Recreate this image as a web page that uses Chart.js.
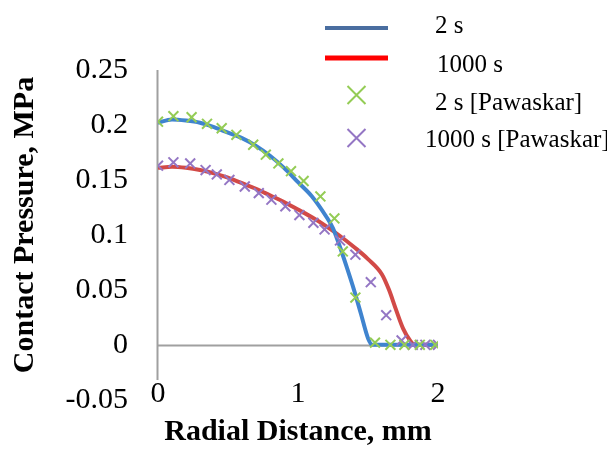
<!DOCTYPE html>
<html>
<head>
<meta charset="utf-8">
<script src="https://cdn.jsdelivr.net/npm/chart.js@4/dist/chart.umd.min.js"></script>
<style>
  html, body { margin: 0; padding: 0; background: #ffffff; }
  #wrap { width: 607px; height: 450px; }
</style>
</head>
<body>
<div id="wrap"><canvas id="chart" width="607" height="450"></canvas></div>
<script>
// Model results: contact pressure (MPa) against radial distance (mm)
const radius2s = [0, 0.1, 0.2, 0.3, 0.4, 0.5, 0.6, 0.7, 0.8, 0.9, 1.0, 1.1, 1.2, 1.25, 1.3, 1.35, 1.4, 1.45, 1.5, 1.53, 1.6, 1.7, 1.8, 1.9, 2.0];
const pressure2s = [0.202, 0.205, 0.204, 0.202, 0.198, 0.193, 0.188, 0.181, 0.172, 0.161, 0.148, 0.135, 0.117, 0.106, 0.089, 0.070, 0.050, 0.028, 0.006, 0, 0, 0, 0, 0, 0];

const radius1000s = [0, 0.1, 0.2, 0.3, 0.4, 0.5, 0.6, 0.7, 0.8, 0.9, 1.0, 1.1, 1.2, 1.3, 1.4, 1.5, 1.6, 1.65, 1.7, 1.75, 1.8, 1.83, 1.9, 2.0];
const pressure1000s = [0.161, 0.162, 0.161, 0.159, 0.156, 0.152, 0.147, 0.142, 0.136, 0.130, 0.123, 0.116, 0.108, 0.099, 0.089, 0.078, 0.064, 0.050, 0.032, 0.015, 0.004, 0, 0, 0];

// Pawaskar reference data
const radiusPaw2s = [0, 0.11, 0.24, 0.35, 0.455, 0.56, 0.68, 0.77, 0.86, 0.95, 1.04, 1.16, 1.26, 1.32, 1.41, 1.55, 1.66, 1.76, 1.87, 1.98];
const pressurePaw2s = [0.203, 0.208, 0.207, 0.201, 0.197, 0.191, 0.182, 0.173, 0.165, 0.158, 0.149, 0.135, 0.115, 0.085, 0.043, 0.002, 0, 0, 0, 0];

const radiusPaw1000s = [0, 0.11, 0.23, 0.34, 0.42, 0.51, 0.62, 0.72, 0.81, 0.91, 1.01, 1.11, 1.19, 1.3, 1.41, 1.52, 1.63, 1.74, 1.82, 1.91, 2.0];
const pressurePaw1000s = [0.163, 0.166, 0.165, 0.159, 0.155, 0.150, 0.144, 0.138, 0.132, 0.126, 0.118, 0.111, 0.105, 0.095, 0.082, 0.057, 0.027, 0.004, 0, 0, 0];

const seriesNames = ['2 s', '1000 s', '2 s [Pawaskar]', '1000 s [Pawaskar]'];
const xTicks = [0, 1, 2];
const yTicks = [-0.05, 0, 0.05, 0.1, 0.15, 0.2, 0.25];

const toPoints = (xs, ys) => xs.map((x, i) => ({ x: x, y: ys[i] }));

const serif = "'Liberation Serif', 'Times New Roman', serif";

// Vertical axis from the top tick down to the plot floor, horizontal axis along zero
const axisLines = {
  id: 'axisLines',
  beforeDatasetsDraw(chart, args, opts) {
    const { ctx, chartArea, scales: { x, y } } = chart;
    ctx.save();
    ctx.strokeStyle = opts.color;
    ctx.lineWidth = opts.width;
    ctx.beginPath();
    const x0 = Math.round(x.getPixelForValue(0)) - 0.5;
    ctx.moveTo(x0, y.getPixelForValue(0.25));
    ctx.lineTo(x0, chartArea.bottom);
    const y0 = Math.round(y.getPixelForValue(0)) + 0.5;
    ctx.moveTo(x0, y0);
    ctx.lineTo(x.getPixelForValue(2), y0);
    ctx.stroke();
    ctx.restore();
  }
};

// Legend in the upper right
const sideLegend = {
  id: 'sideLegend',
  afterDraw(chart, args, opts) {
    const { ctx } = chart;
    ctx.save();
    ctx.font = opts.font;
    ctx.fillStyle = '#000000';
    ctx.textBaseline = 'middle';
    ctx.textAlign = 'left';
    opts.items.forEach((it, i) => {
      const ds = chart.data.datasets[i];
      if (it.kind === 'line') {
        ctx.strokeStyle = it.color;
        ctx.lineWidth = it.width;
        ctx.lineCap = 'butt';
        ctx.beginPath();
        ctx.moveTo(opts.symbolLeft, it.y);
        ctx.lineTo(opts.symbolRight, it.y);
        ctx.stroke();
      } else {
        const r = opts.crossSize;
        const cx = (opts.symbolLeft + opts.symbolRight) / 2;
        ctx.strokeStyle = ds.borderColor;
        ctx.lineWidth = 2;
        ctx.beginPath();
        ctx.moveTo(cx - r, it.y - r);
        ctx.lineTo(cx + r, it.y + r);
        ctx.moveTo(cx - r, it.y + r);
        ctx.lineTo(cx + r, it.y - r);
        ctx.stroke();
      }
      ctx.fillText(ds.label, it.textX, it.textY);
    });
    ctx.restore();
  }
};

new Chart(document.getElementById('chart'), {
  type: 'scatter',
  data: {
    datasets: [
      {
        label: seriesNames[0],
        data: toPoints(radius2s, pressure2s),
        showLine: true,
        borderColor: '#3f84cf',
        borderWidth: 4,
        pointRadius: 0,
        cubicInterpolationMode: 'monotone',
        order: 2
      },
      {
        label: seriesNames[1],
        data: toPoints(radius1000s, pressure1000s),
        showLine: true,
        borderColor: '#d24a47',
        borderWidth: 4,
        pointRadius: 0,
        cubicInterpolationMode: 'monotone',
        order: 2
      },
      {
        label: seriesNames[2],
        data: toPoints(radiusPaw2s, pressurePaw2s),
        showLine: false,
        pointStyle: 'crossRot',
        pointRadius: 7,
        pointBorderWidth: 2,
        borderColor: '#94cc55',
        backgroundColor: '#94cc55',
        order: 1
      },
      {
        label: seriesNames[3],
        data: toPoints(radiusPaw1000s, pressurePaw1000s),
        showLine: false,
        pointStyle: 'crossRot',
        pointRadius: 7,
        pointBorderWidth: 2,
        borderColor: '#9476c4',
        backgroundColor: '#9476c4',
        order: 1
      }
    ]
  },
  options: {
    responsive: false,
    animation: false,
    devicePixelRatio: 1,
    layout: { padding: { top: 70, right: 169, left: 0, bottom: 0 } },
    scales: {
      x: {
        type: 'linear',
        min: 0,
        max: 2,
        afterBuildTicks: (s) => { s.ticks = xTicks.map(v => ({ value: v })); },
        afterFit: (s) => { s.height = 70; },
        grid: { display: false, drawTicks: false },
        border: { display: false },
        ticks: {
          color: '#000000',
          padding: -4,
          maxRotation: 0,
          font: { family: serif, size: 30 }
        },
        title: {
          display: true,
          text: 'Radial Distance, mm',
          color: '#000000',
          padding: { top: 0, bottom: 0 },
          font: { family: serif, size: 30, weight: 'bold' }
        }
      },
      y: {
        type: 'linear',
        min: -0.032,
        max: 0.25,
        afterBuildTicks: (s) => { s.ticks = yTicks.map(v => ({ value: v })); },
        afterFit: (s) => { s.width = 158; },
        grid: { display: false, drawTicks: false },
        border: { display: false },
        ticks: {
          color: '#000000',
          padding: 30,
          font: { family: serif, size: 30 },
          callback: (v) => String(Number(v.toFixed(2)))
        },
        title: {
          display: true,
          text: 'Contact Pressure, MPa',
          color: '#000000',
          padding: { top: 7, bottom: 0 },
          font: { family: serif, size: 30, weight: 'bold' }
        }
      }
    },
    plugins: {
      legend: { display: false },
      tooltip: { enabled: false },
      axisLines: { color: '#a0a0a0', width: 2 },
      sideLegend: {
        font: "25px 'Liberation Serif', 'Times New Roman', serif",
        symbolLeft: 325,
        symbolRight: 388,
        crossSize: 9,
        items: [
          { kind: 'line', color: '#4a6ea0', width: 4, y: 28, textX: 435, textY: 26 },
          { kind: 'line', color: '#ff0000', width: 5, y: 58, textX: 437, textY: 65 },
          { kind: 'cross', y: 95, textX: 435, textY: 103 },
          { kind: 'cross', y: 138, textX: 425, textY: 140 }
        ]
      }
    }
  },
  plugins: [axisLines, sideLegend]
});
</script>
</body>
</html>
